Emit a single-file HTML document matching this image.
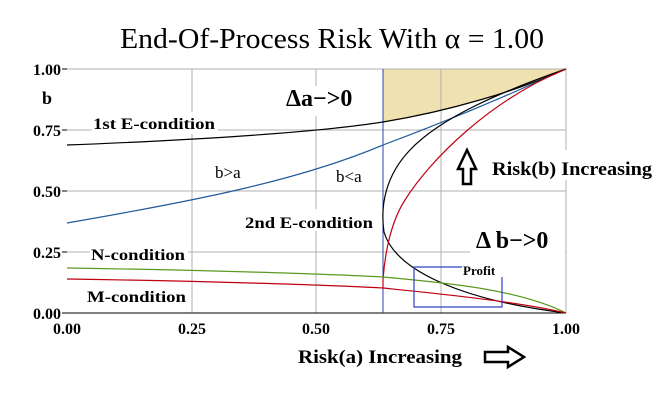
<!DOCTYPE html>
<html><head><meta charset="utf-8"><style>body{margin:0;background:#fff}svg{display:block}</style></head><body>
<svg width="670" height="403" viewBox="0 0 670 403" xmlns="http://www.w3.org/2000/svg" font-family="Liberation Serif, serif">
<rect width="670" height="403" fill="#fff"/>
<text x="332" y="48" font-size="29" text-anchor="middle" textLength="424" lengthAdjust="spacingAndGlyphs">End-Of-Process Risk With α = 1.00</text>
<path d="M383,69 L566,69 L530,84 L490,97 L450,108 L410,117 L383,122 Z" fill="#efe1b0"/>
<g stroke="#b0b0b0" stroke-width="1" fill="none">
<path d="M67,69H566V313M67,130H566M67,191H566M67,252H566M192,69V313M316,69V313M441,69V313"/>
</g>
<g stroke="#000" stroke-width="1"><path d="M62,69H67M62,130H67M62,191H67M62,252H67M62,313H67M67,313H566"/></g>
<line x1="383" y1="69" x2="383" y2="313" stroke="#3040c0"/>
<g fill="#fff"><rect x="92" y="112" width="126" height="22"/><rect x="90" y="242" width="98" height="22"/><rect x="87" y="284" width="103" height="22"/><rect x="243" y="209" width="133" height="22"/><rect x="455" y="150" width="200" height="30"/><rect x="470" y="225" width="95" height="30"/><rect x="275" y="86" width="95" height="30"/></g>
<g fill="none" stroke-width="1.2">
<path d="M67,145 C200,140 320,132 383,122 C450,111 520,90 566,69" stroke="#000"/>
<path d="M67,223 C200,200 300,180 383,145 C450,120 520,90 566,69" stroke="#1f5b9a"/>
<path d="M566,69 C500,92 440,118 410,150 C386,175 380,205 384,232 C395,270 460,300 566,313" stroke="#000"/>
<path d="M383,288 L383,280 C385,250 392,220 405,200 C430,160 490,100 566,69" stroke="#c00010"/>
<path d="M67,268 C200,270 330,274 383,277 C450,283 520,290 566,313" stroke="#5a9a20"/>
<path d="M67,279 C200,281 330,285 383,288 C450,295 520,302 566,313" stroke="#c00010"/>
<path d="M462,267 H414 V307 H502 V277" stroke="#3040c0"/>
</g>
<g font-weight="bold" font-size="16" text-anchor="end"><text x="61" y="75">1.00</text><text x="61" y="136">0.75</text><text x="61" y="197">0.50</text><text x="61" y="258">0.25</text><text x="61" y="319">0.00</text></g>
<g font-weight="bold" font-size="16" text-anchor="middle"><text x="67" y="334">0.00</text><text x="192" y="334">0.25</text><text x="316" y="334">0.50</text><text x="441" y="334">0.75</text><text x="566" y="334">1.00</text></g>
<g font-weight="bold">
<text x="42" y="104" font-size="18">b</text>
<text x="93" y="129" font-size="16" textLength="122" lengthAdjust="spacingAndGlyphs">1st E-condition</text>
<text x="91" y="260" font-size="16" textLength="94" lengthAdjust="spacingAndGlyphs">N-condition</text>
<text x="87" y="302" font-size="16" textLength="99" lengthAdjust="spacingAndGlyphs">M-condition</text>
<text x="245" y="228" font-size="16" textLength="128" lengthAdjust="spacingAndGlyphs">2nd E-condition</text>
<text x="286" y="106" font-size="24">Δa−&gt;0</text>
<text x="476" y="248" font-size="24">Δ b−&gt;0</text>
<text x="492" y="175" font-size="19" textLength="160" lengthAdjust="spacingAndGlyphs">Risk(b) Increasing</text>
<text x="463" y="275" font-size="13">Profit</text>
<text x="298" y="363" font-size="19" textLength="164" lengthAdjust="spacingAndGlyphs">Risk(a) Increasing</text>
</g>
<text x="215" y="178" font-size="17">b&gt;a</text>
<text x="336" y="182" font-size="17">b&lt;a</text>
<path d="M463,184 V169 H458 L467,150 L476,169 H471 V184 Z" fill="#fff" stroke="#000" stroke-width="2.5"/>
<path d="M485,352 H508 V347 L524,357 L508,367 V362 H485 Z" fill="#fff" stroke="#000" stroke-width="2.5"/>
</svg>
</body></html>
